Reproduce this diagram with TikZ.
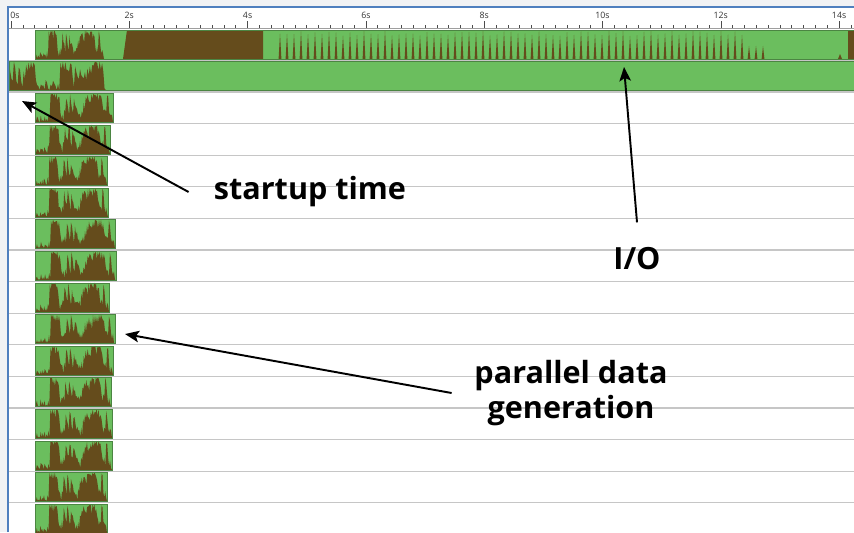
\documentclass[tikz,border=0pt]{standalone}
\usepackage{fontspec}
\setmainfont{Open Sans}
\setsansfont{Open Sans}
\usetikzlibrary{arrows.meta}
\definecolor{cgreen}{HTML}{6BBE5E}
\definecolor{cbrown}{HTML}{654C1C}
\definecolor{cframe}{HTML}{4F7FBE}
\definecolor{cgrid}{HTML}{C6C6C6}
\definecolor{cpage}{HTML}{F1F2F4}
\tikzset{
  every picture/.style={font=\sffamily},
  arrow/.style={-{Stealth[length=2.8mm, width=2.3mm, inset=0.6mm]}, line width=1.1pt},
  callout/.style={font=\sffamily\bfseries\fontsize{17.4}{20}\selectfont, align=center, inner sep=0pt},
  tick/.style={font=\sffamily\fontsize{5}{6}\selectfont, text=black!80, inner sep=0pt},
  tickline/.style={draw=black!70, line width=0.35pt},
  gridline/.style={draw=cgrid, line width=0.6pt},
  barline/.style={draw=cgreen!70!black, line width=0.25pt},
}
\newcommand\parprof{0.1,0.15,0.08,0.2,0.12,0.18,0.1,0.25,1,1,0.97,1,0.9,0.35,0.3,0.4,0.85,0.5,0.92,0.45,0.75,0.55,0.35,0.3,0.4,0.65,0.8,0.9,0.75,0.95,1,0.92,1,0.97,0.85,0.45,0.4,0.95,0.35,0.3}
\newcommand\firstprof{0.95,0.4,1,0.3,0.85,0.35,0.6,0.9,1,1,1,0.3,0.2,0.25,0.15,0.3,0.12,0.2,0.35,0.15,0.25,1,1,0.95,0.7,0.9,0.4,0.85,0.5,0.8,0.45,0.6,0.7,0.85,0.9,1,0.95,1,0.9,0.05}
\newcommand\brownarea[5]{%
  \fill[cbrown] (#1,{#3+29}) \foreach \h [count=\j] in #4 {-- ({#1+(\j-1)*(#2-#1)/(#5+1)},{#3+29-29*max(0.02,min(1,\h+0.06*rand))}) -- ({#1+(\j-0.5)*(#2-#1)/(#5+1)},{#3+29-29*max(0.02,min(1,\h-0.3*rnd))})} -- (#2,{#3+29}) -- cycle;}

\begin{document}
\begin{tikzpicture}[x=0.02cm, y=-0.02cm]
  \useasboundingbox (0,0) rectangle (854,532);
  \pgfmathsetseed{7}
  \fill[cpage] (0,0) rectangle (854,532);
  \fill[white] (8,7) rectangle (854,532);
  \foreach \t in {0,...,73} \draw[tickline] ({11+\t*11.83},25) -- ++(0,2.5);
  \draw[tickline] (11,21) -- ++(0,6.5);
  \node[tick, anchor=west] (t0) at (10,15.5) {0s};
  \foreach \s in {2,4,...,14} {\draw[tickline] ({11+\s*59.15},21) -- ++(0,6.5); \node[tick] (t\s) at ({11+\s*59.15},15.5) {\s s};}
  \draw[gridline, draw=cgrid!80!black] (8,28.5) -- (854,28.5);
  \foreach \k in {2,...,16} \draw[gridline] (8,{28.8+(\k-1)*31.6}) -- (854,{28.8+(\k-1)*31.6});
  \fill[cgreen] (35,30) rectangle (854,59);
  \brownarea{35}{104}{30}{\parprof}{39}
  \fill[cbrown] (123,59) -- (127,30) -- (263,30) -- (263,59) -- cycle;
  \foreach \i in {0,...,69} {\pgfmathsetmacro\sx{280+\i*7} \pgfmathsetmacro\sh{\i>66 ? 0.45 : 0.8+0.18*rnd}
    \fill[cbrown] ({\sx-1.4},59) -- (\sx,{59-29*\sh}) -- ({\sx+1.4},59) -- cycle;}
  \fill[cbrown] (838,59) -- (840,54) -- (842,59) -- cycle;
  \fill[cbrown] (848,30) rectangle (854,59);
  \draw[barline] (35,30) rectangle (854,59);
  \fill[cgreen] (9,61.6) rectangle (854,90.6);
  \brownarea{9}{107}{61.6}{\firstprof}{39}
  \draw[barline] (9,61.6) rectangle (854,90.6);
  \foreach \k/\e in {3/113,4/110,5/107,6/108,7/115,8/116,9/109,10/115,11/113,12/111,13/112,14/112,15/107,16/107} {
    \pgfmathsetmacro\yt{30+(\k-1)*31.6}
    \fill[cgreen] (35,\yt) rectangle (\e,{\yt+29});
    \brownarea{35}{\e}{\yt}{\parprof}{39}
    \draw[barline] (35,\yt) rectangle (\e,{\yt+29});}
  \draw[cframe, line width=1.2pt] (8,532) -- (8,7) -- (854,7);
  \node[callout] (startup) at (310,192) {startup time};
  \node[callout] (io) at (637,259) {I/O};
  \node[callout] (gen) at (571,393) {parallel data\\generation};
  \coordinate (sthead) at (22,101);
  \coordinate (iohead) at (624,67);
  \coordinate (genhead) at (125,334);
  \draw[arrow] ([xshift=-0.5cm]startup.west) -- (sthead);
  \draw[arrow] ([yshift=0.5cm]io.north) -- (iohead);
  \draw[arrow] ([xshift=-0.45cm]gen.west) -- (genhead);
\end{tikzpicture}
\end{document}
